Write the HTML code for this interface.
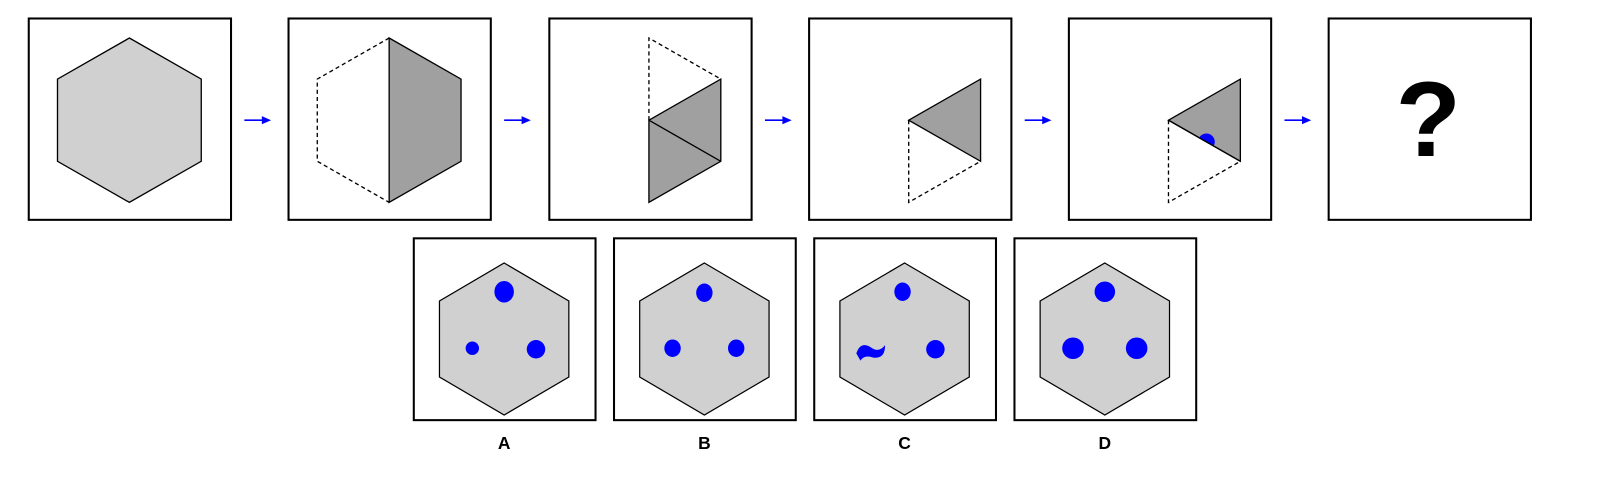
<!DOCTYPE html>
<html><head><meta charset="utf-8"><style>body{margin:0;background:#fff}svg{display:block}</style></head>
<body>
<svg width="1610" height="490" viewBox="0 0 1568 477" preserveAspectRatio="none" xmlns="http://www.w3.org/2000/svg" font-family="Liberation Sans, sans-serif">
<g stroke="#000" stroke-width="2" fill="#fff">
<rect x="28" y="18" width="197" height="196"/>
<rect x="281" y="18" width="197" height="196"/>
<rect x="535" y="18" width="197" height="196"/>
<rect x="788" y="18" width="197" height="196"/>
<rect x="1041" y="18" width="197" height="196"/>
<rect x="1294" y="18" width="197" height="196"/>
</g>
<polygon points="126,37 196,77 196,157 126,197 56,157 56,77" fill="#d0d0d0" stroke="#000" stroke-width="1.3"/>
<g stroke="#000" stroke-width="1.3">
<polyline points="379,37 309,77 309,157 379,197" fill="none" stroke-dasharray="4,3"/>
<polygon points="379,37 449,77 449,157 379,197" fill="#a0a0a0"/>
</g>
<g stroke="#000" stroke-width="1.3">
<polyline points="632,117 632,37 702,77" fill="none" stroke-dasharray="4,3"/>
<polygon points="632,117 702,77 702,157 632,197" fill="#a0a0a0"/>
<line x1="632" y1="117" x2="702" y2="157"/>
</g>
<g stroke="#000" stroke-width="1.3">
<polygon points="885,117 955,77 955,157" fill="#a0a0a0"/>
<polyline points="885,117 885,197 955,157" fill="none" stroke-dasharray="4,3"/>
</g>
<g stroke="#000" stroke-width="1.3">
<polygon points="1138,117 1208,77 1208,157" fill="#a0a0a0"/>
<polyline points="1138,117 1138,197 1208,157" fill="none" stroke-dasharray="4,3"/>
<path d="M1168,134 A8,8 0 0 1 1182,142 Z" fill="#0000ff" stroke="none"/>
<line x1="1138" y1="117" x2="1208" y2="157"/>
</g>
<text x="1391" y="152" font-size="104" font-weight="bold" text-anchor="middle">?</text>
<g fill="#0000ff" stroke="#0000ff" stroke-width="1.5">
<line x1="238" y1="117" x2="257" y2="117"/><polygon points="264,117 255,113 255,121" stroke="none"/>
<line x1="491" y1="117" x2="510" y2="117"/><polygon points="517,117 508,113 508,121" stroke="none"/>
<line x1="745" y1="117" x2="764" y2="117"/><polygon points="771,117 762,113 762,121" stroke="none"/>
<line x1="998" y1="117" x2="1017" y2="117"/><polygon points="1024,117 1015,113 1015,121" stroke="none"/>
<line x1="1251" y1="117" x2="1270" y2="117"/><polygon points="1277,117 1268,113 1268,121" stroke="none"/>
</g>
<g stroke="#000" stroke-width="2" fill="#fff">
<rect x="403" y="232" width="177" height="177"/>
<rect x="598" y="232" width="177" height="177"/>
<rect x="793" y="232" width="177" height="177"/>
<rect x="988" y="232" width="177" height="177"/>
</g>
<g fill="#d0d0d0" stroke="#000" stroke-width="1.2">
<polygon points="491,256 554,293 554,367 491,404 428,367 428,293"/>
<polygon points="686,256 749,293 749,367 686,404 623,367 623,293"/>
<polygon points="881,256 944,293 944,367 881,404 818,367 818,293"/>
<polygon points="1076,256 1139,293 1139,367 1076,404 1013,367 1013,293"/>
</g>
<g fill="#0000ff">
<ellipse cx="491" cy="284" rx="9.5" ry="10.5"/><circle cx="460" cy="339" r="6.5"/><circle cx="522" cy="340" r="9"/>
<ellipse cx="686" cy="285" rx="8" ry="9"/><ellipse cx="655" cy="339" rx="8" ry="8.5"/><ellipse cx="717" cy="339" rx="8" ry="8.5"/>
<ellipse cx="879" cy="284" rx="8" ry="9"/><path d="M834,344 Q838,332 848,338 Q856,344 862,336 Q862,350 850,348 Q842,345 838,351 Z"/><circle cx="911" cy="340" r="9"/>
<circle cx="1076" cy="284" r="10"/><circle cx="1045" cy="339" r="10.5"/><circle cx="1107" cy="339" r="10.5"/>
</g>
<g font-size="17" font-weight="bold" text-anchor="middle">
<text x="491" y="437">A</text><text x="686" y="437">B</text><text x="881" y="437">C</text><text x="1076" y="437">D</text>
</g>
</svg>
</body></html>
